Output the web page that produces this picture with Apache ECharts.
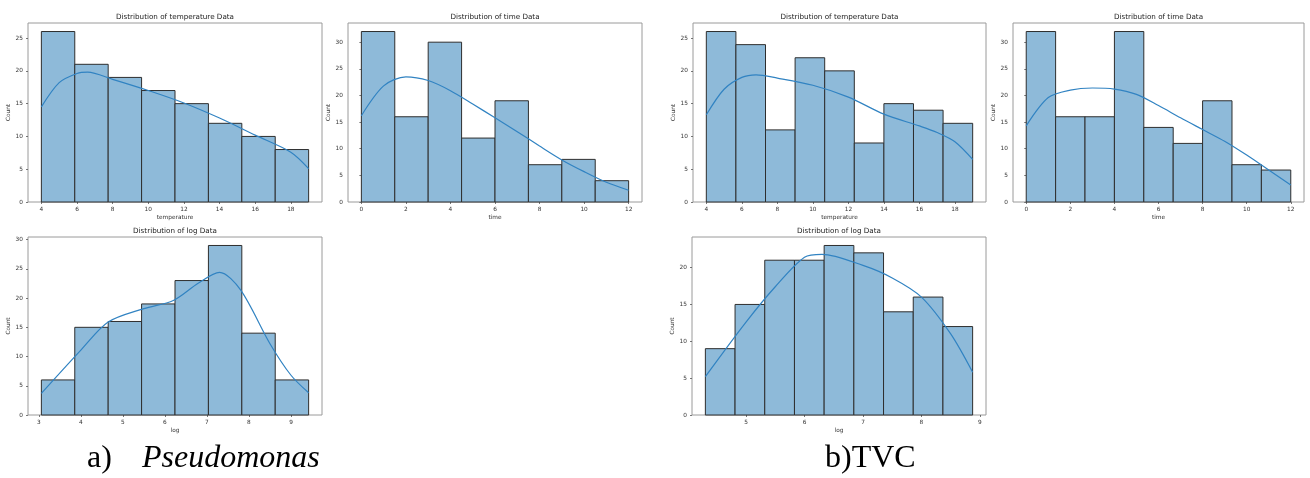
<!DOCTYPE html>
<html>
<head>
<meta charset="utf-8">
<script src="https://cdn.jsdelivr.net/npm/echarts@6.0.0/dist/echarts.min.js"></script>
<style>
  html, body { margin: 0; padding: 0; background: #fff; }
  #myChart { width: 1310px; height: 478px; }
</style>
</head>
<body>
<div id="myChart"></div>
<script>
// ---- a) Pseudomonas ----
const tempA_range = [4, 19];
const tempA_counts = [26, 21, 19, 17, 15, 12, 10, 8];
const tempA_kde = [[4, 14.5], [5, 18.2], [6, 19.6], [6.6, 19.8], [8, 18.7], [10, 17.0], [12, 15.1], [14, 12.8], [16, 10.2], [18, 7.6], [19, 5.1]];

const timeA_range = [0, 12];
const timeA_counts = [32, 16, 30, 12, 19, 7, 8, 4];
const timeA_kde = [[0, 16.2], [1, 21.8], [2, 23.5], [3, 22.8], [4, 20.9], [5, 18.4], [6, 15.8], [7, 13.2], [8, 10.5], [9, 7.9], [10, 5.7], [11, 3.7], [12, 2.2]];

const logA_range = [3.06, 9.42];
const logA_counts = [6, 15, 16, 19, 23, 29, 14, 6];
const logA_kde = [[3.06, 3.7], [4, 11.1], [4.65, 15.9], [5.5, 18.2], [6.2, 19.6], [6.8, 22.6], [7.3, 24.4], [7.8, 21.4], [8.5, 12.2], [9, 6.8], [9.42, 3.8]];

// ---- b) TVC ----
const tempB_range = [4, 19];
const tempB_counts = [26, 24, 11, 22, 20, 9, 15, 14, 12];
const tempB_kde = [[4, 13.3], [5, 17.2], [6, 19.0], [6.8, 19.4], [8, 18.9], [10, 17.8], [12, 16.0], [14, 13.4], [16, 11.6], [17, 10.6], [18, 9.2], [19, 6.5]];

const timeB_range = [0, 12];
const timeB_counts = [32, 16, 16, 32, 14, 11, 19, 7, 6];
const timeB_kde = [[0, 14.3], [1, 19.6], [2, 21.0], [3, 21.4], [4, 21.2], [5, 20.2], [6, 18.1], [7, 15.8], [8, 13.6], [9, 11.4], [10, 8.8], [11, 6.0], [12, 3.2]];

const logB_range = [4.305, 8.875];
const logB_counts = [9, 15, 21, 21, 23, 22, 14, 16, 12];
const logB_kde = [[4.305, 5.2], [5, 12.6], [5.5, 17.4], [6, 21.4], [6.3, 21.8], [7, 20.3], [7.5, 18.6], [8, 16.0], [8.5, 11.0], [8.875, 5.8]];

// tick labels
const tempTicks = [4, 6, 8, 10, 12, 14, 16, 18];
const timeTicks = [0, 2, 4, 6, 8, 10, 12];
const logTicksA = [3, 4, 5, 6, 7, 8, 9];
const logTicksB = [5, 6, 7, 8, 9];
const countTicks25 = [0, 5, 10, 15, 20, 25];
const countTicks30 = [0, 5, 10, 15, 20, 25, 30];
const countTicks20 = [0, 5, 10, 15, 20];

const panels = [
  { title: 'Distribution of temperature Data', xName: 'temperature', range: tempA_range, counts: tempA_counts, kde: tempA_kde, xTicks: tempTicks, yTicks: countTicks25, grid: { left: 28, top: 23, width: 294, height: 179 } },
  { title: 'Distribution of time Data', xName: 'time', range: timeA_range, counts: timeA_counts, kde: timeA_kde, xTicks: timeTicks, yTicks: countTicks30, grid: { left: 348, top: 23, width: 294, height: 179 } },
  { title: 'Distribution of log Data', xName: 'log', range: logA_range, counts: logA_counts, kde: logA_kde, xTicks: logTicksA, yTicks: countTicks30, grid: { left: 28, top: 237, width: 294, height: 178 } },
  { title: 'Distribution of temperature Data', xName: 'temperature', range: tempB_range, counts: tempB_counts, kde: tempB_kde, xTicks: tempTicks, yTicks: countTicks25, grid: { left: 693, top: 23, width: 293, height: 179 } },
  { title: 'Distribution of time Data', xName: 'time', range: timeB_range, counts: timeB_counts, kde: timeB_kde, xTicks: timeTicks, yTicks: countTicks30, grid: { left: 1013, top: 23, width: 291, height: 179 } },
  { title: 'Distribution of log Data', xName: 'log', range: logB_range, counts: logB_counts, kde: logB_kde, xTicks: logTicksB, yTicks: countTicks20, grid: { left: 692, top: 237, width: 294, height: 178 } }
];

const FONT = 'DejaVu Sans';

function renderBin(params, api) {
  const a = api.coord([api.value(0), api.value(2)]);
  const b = api.coord([api.value(1), 0]);
  return {
    type: 'rect',
    shape: { x: a[0], y: a[1], width: b[0] - a[0], height: b[1] - a[1] },
    style: { fill: '#8ebad9', stroke: '#2e2e2e', lineWidth: 1 }
  };
}

let grid = [], xAxis = [], yAxis = [], series = [], title = [];
panels.forEach(function (p, i) {
  const lo = p.range[0], hi = p.range[1];
  const w = (hi - lo) / p.counts.length;
  const pad = (hi - lo) * 0.05;
  const ymax = Math.max.apply(null, p.counts) * 1.05;

  grid.push(Object.assign({ show: true, borderColor: '#9a9a9a', borderWidth: 1, backgroundColor: '#fff', containLabel: false, outerBoundsMode: 'none' }, p.grid));

  xAxis.push({
    type: 'value', gridIndex: i, min: lo - pad, max: hi + pad,
    name: p.xName, nameLocation: 'middle', nameGap: 12,
    nameTextStyle: { fontFamily: FONT, fontSize: 5.8, color: '#333' },
    axisLine: { show: false },
    axisTick: { show: true, length: 2, customValues: p.xTicks, lineStyle: { color: '#555', width: 0.8 } },
    axisLabel: { customValues: p.xTicks, margin: 4, fontFamily: FONT, fontSize: 5.8, color: '#333' },
    splitLine: { show: false }
  });
  yAxis.push({
    type: 'value', gridIndex: i, min: 0, max: ymax,
    name: 'Count', nameLocation: 'middle', nameGap: 14, nameRotate: 90,
    nameTextStyle: { fontFamily: FONT, fontSize: 5.8, color: '#333' },
    axisLine: { show: false },
    axisTick: { show: true, length: 2, customValues: p.yTicks, lineStyle: { color: '#555', width: 0.8 } },
    axisLabel: { customValues: p.yTicks, margin: 5, fontFamily: FONT, fontSize: 5.8, color: '#333' },
    splitLine: { show: false }
  });

  series.push({
    type: 'custom', xAxisIndex: i, yAxisIndex: i,
    renderItem: renderBin,
    encode: { x: [0, 1], y: 2 },
    data: p.counts.map(function (c, k) { return [lo + k * w, lo + (k + 1) * w, c]; })
  });
  series.push({
    type: 'line', xAxisIndex: i, yAxisIndex: i,
    data: p.kde, smooth: 0.3, showSymbol: false,
    lineStyle: { color: '#3183c2', width: 1.2 }
  });

  title.push({
    text: p.title, left: p.grid.left + p.grid.width / 2, top: p.grid.top - 6,
    textAlign: 'center', textVerticalAlign: 'middle', padding: 0,
    textStyle: { fontFamily: FONT, fontSize: 7.2, fontWeight: 'normal', color: '#222' }
  });
});

let myChart = echarts.init(document.getElementById('myChart'), null, { renderer: 'canvas' });
myChart.setOption({
  animation: false,
  backgroundColor: '#fff',
  title: title,
  grid: grid,
  xAxis: xAxis,
  yAxis: yAxis,
  series: series,
  graphic: [
    { type: 'text', style: { x: 87, y: 459, text: 'a)', font: '32px "Liberation Serif"', fill: '#000', textVerticalAlign: 'middle' } },
    { type: 'text', style: { x: 142, y: 459, text: 'Pseudomonas', font: 'italic 32px "Liberation Serif"', fill: '#000', textVerticalAlign: 'middle' } },
    { type: 'text', style: { x: 825, y: 459, text: 'b)TVC', font: '32px "Liberation Serif"', fill: '#000', textVerticalAlign: 'middle' } }
  ]
});
</script>
</body>
</html>
